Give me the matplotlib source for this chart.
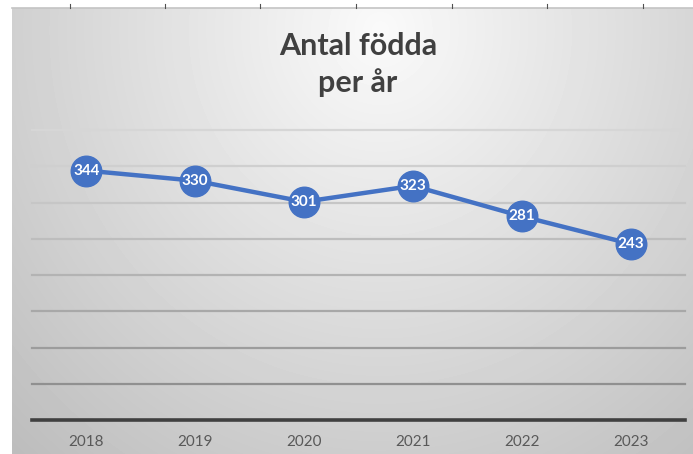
import numpy as np
import matplotlib.pyplot as plt
from matplotlib.lines import Line2D

years = ["2018", "2019", "2020", "2021", "2022", "2023"]
births = [344, 330, 301, 323, 281, 243]
grid_values = [50, 100, 150, 200, 250, 300, 350, 400]

title_lines = ["Antal födda", "per år"]
blue = "#4472C4"

W, H = 693, 454
fig = plt.figure(figsize=(W / 100, H / 100), dpi=100)
fig.patch.set_facecolor("white")

# ---- gradient background of the chart area
bx0, by0 = 12, 8
bg = fig.add_axes([bx0 / W, 0, (W - bx0) / W, (H - by0) / H])
xx, yy = np.meshgrid(np.arange(bx0, W), np.arange(by0, H))
d = np.sqrt(((xx - 380) / 420.0) ** 2 + ((yy - 30) / 450.0) ** 2)
shade = np.clip(250 - 48 * d, 185, 252) / 255.0
bg.imshow(shade, cmap="gray", vmin=0, vmax=1, aspect="auto", interpolation="bilinear")
bg.axis("off")

# thin top border and little sheet ticks above the chart
fig.add_artist(Line2D([bx0 / W, 1], [1 - by0 / H] * 2, color="#c4c4c4", lw=1.2))
for tx in [70, 165, 260, 356, 452, 547, 643]:
    fig.add_artist(Line2D([tx / W] * 2, [1 - 4 / H, 1 - by0 / H], color="#505050", lw=0.8))

# ---- plot area
ax = fig.add_axes([32 / W, (H - 420) / H, (685 - 32) / W, (420 - 130) / H])
ax.patch.set_alpha(0)
ax.set_xlim(-0.5, len(years) - 0.5)
ax.set_ylim(0, 400)

grid_cols = ["#d6d6d6", "#cfcfcf", "#c6c6c6", "#bdbdbd", "#b3b3b3", "#a8a8a8", "#9c9c9c", "#909090"]
for v, c in zip(grid_values, grid_cols[::-1]):
    ax.axhline(v, color=c, lw=1.6, zorder=1, clip_on=False)
ax.axhline(0, color="#404040", lw=2.6, zorder=2, clip_on=False)

x = np.arange(len(years))
ax.plot(x, births, color=blue, lw=3.2, marker="o", markersize=22,
        markerfacecolor=blue, markeredgecolor=blue, zorder=3, clip_on=False)
for xi, v in zip(x, births):
    ax.text(xi, v, str(v), ha="center", va="center", color="white",
            fontsize=11, fontweight="bold", family="Lato", zorder=4)

for s in ax.spines.values():
    s.set_visible(False)
ax.set_yticks([])
ax.set_xticks(x)
ax.set_xticklabels(years, fontsize=11, color="#595959", family="Lato")
ax.tick_params(axis="x", length=0, pad=11)

for line, base in zip(title_lines, [55, 92]):
    fig.text(358 / W, 1 - base / H, line, ha="center", va="baseline", fontsize=22,
             fontweight="bold", color="#404040", family="Lato")

fig.savefig("out.png", dpi=100)
